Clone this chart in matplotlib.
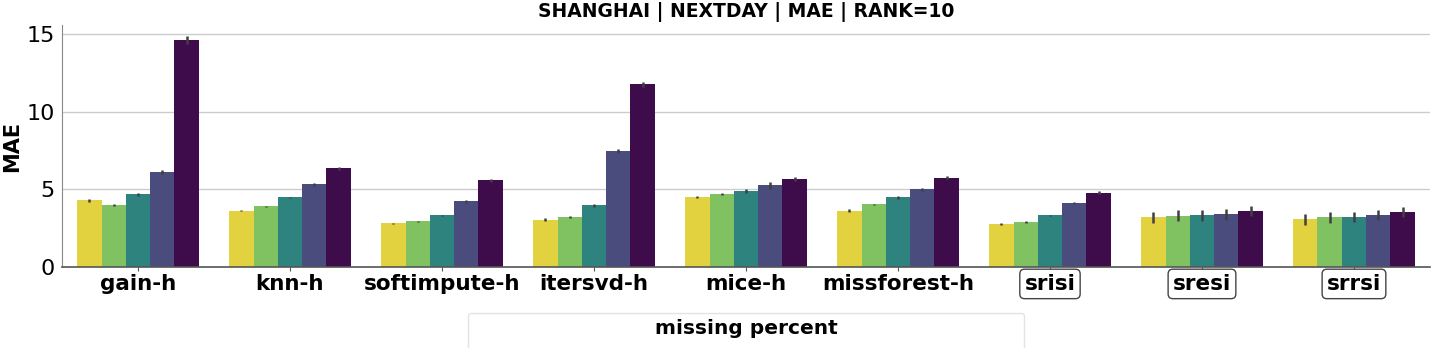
import colorsys
import numpy as np
import matplotlib
matplotlib.use("Agg")
import matplotlib.pyplot as plt

methods = ['gain-h', 'knn-h', 'softimpute-h', 'itersvd-h', 'mice-h',
           'missforest-h', 'srisi', 'sresi', 'srrsi']
boxed = ['srisi', 'sresi', 'srrsi']
percents = ['10%', '30%', '50%', '70%', '90%']

# MAE per missing percent (one list per percent, one value per method)
mae_p1 = [4.29, 3.64, 2.82, 3.06, 4.50, 3.64, 2.76, 3.19, 3.08]
mae_p2 = [3.99, 3.90, 2.95, 3.23, 4.70, 4.03, 2.91, 3.30, 3.19]
mae_p3 = [4.68, 4.48, 3.32, 3.99, 4.89, 4.48, 3.32, 3.32, 3.23]
mae_p4 = [6.12, 5.32, 4.24, 7.47, 5.26, 5.00, 4.11, 3.40, 3.36]
mae_p5 = [14.62, 6.36, 5.58, 11.78, 5.65, 5.75, 4.80, 3.60, 3.53]

err_p1 = [0.08, 0.06, 0.04, 0.07, 0.08, 0.07, 0.05, 0.35, 0.35]
err_p2 = [0.06, 0.05, 0.04, 0.05, 0.06, 0.05, 0.05, 0.35, 0.33]
err_p3 = [0.08, 0.06, 0.06, 0.10, 0.12, 0.08, 0.05, 0.35, 0.33]
err_p4 = [0.15, 0.08, 0.09, 0.15, 0.22, 0.10, 0.08, 0.35, 0.30]
err_p5 = [0.25, 0.08, 0.10, 0.15, 0.12, 0.10, 0.08, 0.33, 0.33]

values = [mae_p1, mae_p2, mae_p3, mae_p4, mae_p5]
errors = [err_p1, err_p2, err_p3, err_p4, err_p5]


def desaturate(c, prop=0.75):
    h, l, s = colorsys.rgb_to_hls(*c[:3])
    return colorsys.hls_to_rgb(h, l, s * prop)


cmap = plt.get_cmap('viridis')
colors = [desaturate(cmap(v)) for v in [1.0, 0.8, 0.5, 0.2, 0.0]]

fig = plt.figure(figsize=(14.35, 3.48), dpi=100)
ax = fig.add_axes([0.0432, 0.2328, 0.9533, 0.6954])

x = np.arange(len(methods))
n = len(percents)
w = 0.8 / n
for i in range(n):
    ax.bar(x - 0.4 + w * (i + 0.5), values[i], width=w, color=colors[i],
           label=percents[i], zorder=2, linewidth=0)
    ax.errorbar(x - 0.4 + w * (i + 0.5), values[i], yerr=errors[i], fmt='none',
                ecolor='#404040', elinewidth=1.8, capsize=0, zorder=3)

ax.set_xlim(-0.5, 8.5)
ax.set_ylim(0, 15.6)
ax.set_yticks([0, 5, 10, 15])
ax.yaxis.grid(True, color='#cccccc', linewidth=1, zorder=0)
ax.set_axisbelow(True)
for s in ['top', 'right']:
    ax.spines[s].set_visible(False)
ax.spines['left'].set_color('#888888')
ax.spines['bottom'].set_color('#555555')
ax.spines['bottom'].set_linewidth(1.2)

ax.set_xticks(x)
ax.set_xticklabels(methods, fontsize=15.5, fontweight='bold')
ax.tick_params(axis='x', length=3, pad=2, color='#555555')
ax.tick_params(axis='y', length=0, pad=5, labelsize=16)
for lbl in ax.get_xticklabels():
    if lbl.get_text() in boxed:
        lbl.set_bbox(dict(boxstyle='round,pad=0.22', facecolor='white',
                          edgecolor='#444444', linewidth=1))

ax.set_ylabel('MAE', fontsize=15, fontweight='bold', labelpad=3)
ax.set_title('SHANGHAI | NEXTDAY | MAE | RANK=10', fontsize=13.5,
             fontweight='bold', pad=6)

leg = ax.legend(title='missing percent', loc='upper center',
                bbox_to_anchor=(0.5, -0.155), ncol=5, fontsize=12,
                title_fontproperties={'weight': 'bold', 'size': 14.5},
                columnspacing=1.9, frameon=True)
leg.get_frame().set_edgecolor('#dddddd')

fig.savefig('out.png', dpi=100)
